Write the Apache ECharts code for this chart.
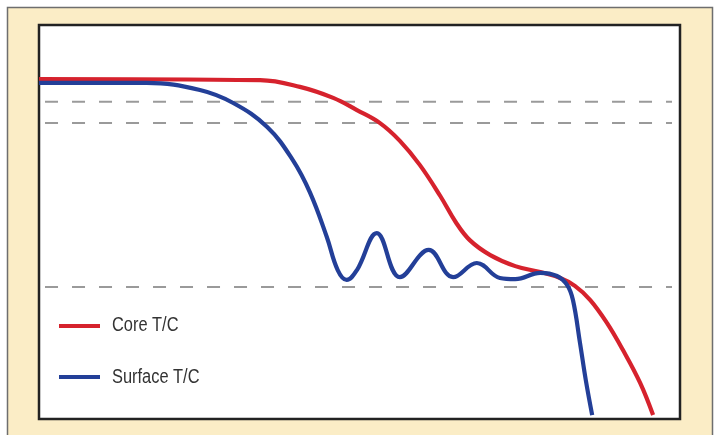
<!DOCTYPE html>
<html>
<head>
<meta charset="utf-8">
<script src="https://cdn.jsdelivr.net/npm/echarts@6/dist/echarts.min.js"></script>
<style>html,body{margin:0;padding:0;background:#fff}#c{width:716px;height:435px}</style>
</head>
<body>
<div id="c"></div>
<script>
// Time (0-100) vs temperature (0-100, arbitrary units)
var coreTime =  [0, 34.5, 40.7, 45.9, 49.6, 53.2, 56.3, 59.4, 62.6, 65.0, 67.2, 70.4, 74.3, 78.2, 81.3, 83.6, 86.0, 88.6, 91.1, 93.8, 95.8];
var coreTemp =  [86.3, 86.0, 84.3, 81.5, 78.4, 75.1, 70.6, 64.5, 56.6, 50.0, 45.4, 41.6, 38.8, 37.3, 35.8, 33.8, 30.2, 24.4, 17.5, 9.1, 1.0];
var surfTime =  [0, 16.8, 25.1, 30.3, 35.6, 39.6, 42.3, 44.9, 46.6, 48.0, 49.6, 52.7, 56.3, 60.8, 64.6, 68.3, 71.9, 74.3, 78.2, 80.8, 82.4, 83.3, 84.4, 85.3, 86.3];
var surfTemp =  [85.3, 85.3, 83.5, 80.2, 74.1, 65.7, 57.4, 46.2, 37.8, 35.3, 37.8, 47.2, 36.0, 42.9, 36.0, 39.6, 35.8, 35.5, 37.1, 36.3, 34.0, 30.2, 19.3, 9.9, 1.0];
var refLevels = [80.5, 75.1, 33.5];
var refRange = [0.94, 98.75];
var seriesNames = ['Core T/C', 'Surface T/C'];

function pairs(xs, ys){ return xs.map(function(x,i){ return [x, ys[i]]; }); }

var chart = echarts.init(document.getElementById('c'), null, {renderer:'canvas'});
var series = [];
refLevels.forEach(function(v){
  series.push({
    type:'line', silent:true, symbol:'none', z:1,
    data:[[refRange[0], v],[refRange[1], v]],
    lineStyle:{color:'#9a9a9a', width:2, type:[13,14]}
  });
});
series.push({
  name: seriesNames[0], type:'line', symbol:'none', smooth:0.4, z:3,
  data: pairs(coreTime, coreTemp),
  lineStyle:{color:'#D6222D', width:4.2}, itemStyle:{color:'#D6222D'}
});
series.push({
  name: seriesNames[1], type:'line', symbol:'none', smooth:0.4, z:4,
  data: pairs(surfTime, surfTemp),
  lineStyle:{color:'#233F98', width:4.2}, itemStyle:{color:'#233F98'}
});

var labelFont = '20px "Liberation Sans", Arial, sans-serif';
chart.setOption({
  backgroundColor:'#ffffff',
  animation:false,
  graphic:[{
    type:'rect', z:-100, silent:true,
    shape:{x:7.5, y:7.5, width:705, height:440},
    style:{fill:'#FBEDC6', stroke:'#6e6e6e', lineWidth:1.5}
  },{
    type:'text', x:112, y:325, scaleX:0.82, z:10, silent:true,
    style:{text:seriesNames[0], font:labelFont, fill:'#333', verticalAlign:'middle', align:'left'}
  },{
    type:'text', x:112, y:377, scaleX:0.82, z:10, silent:true,
    style:{text:seriesNames[1], font:labelFont, fill:'#333', verticalAlign:'middle', align:'left'}
  }],
  grid:{left:39, top:25, right:36, bottom:16, show:true, backgroundColor:'#ffffff', borderColor:'#222', borderWidth:2.5},
  xAxis:{type:'value', min:0, max:100, show:false},
  yAxis:{type:'value', min:0, max:100, show:false},
  legend:[
    {data:[{name:seriesNames[0], icon:'rect'}], left:54, top:319, itemWidth:41, itemHeight:4, formatter:function(){return '';}, textStyle:{fontSize:4}, selectedMode:false},
    {data:[{name:seriesNames[1], icon:'rect'}], left:54, top:370, itemWidth:41, itemHeight:4, formatter:function(){return '';}, textStyle:{fontSize:4}, selectedMode:false}
  ],
  series: series
});
</script>
</body>
</html>
